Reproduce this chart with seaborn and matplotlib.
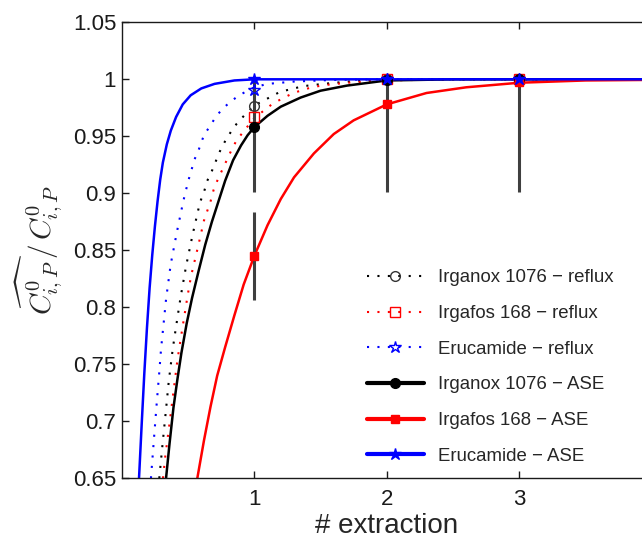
import matplotlib
matplotlib.use('Agg')
import matplotlib.pyplot as plt
from matplotlib.lines import Line2D
from matplotlib.ticker import FormatStrFormatter
import seaborn as sns

# model curves (x = # extraction, y = normalised concentration)
irganox_ase_x = [0.334, 0.36, 0.39, 0.42, 0.45, 0.49, 0.53, 0.58, 0.63, 0.68, 0.73, 0.78, 0.84, 0.9,
                 0.95, 1.0, 1.1, 1.2, 1.35, 1.5, 1.7, 2.0, 2.5, 3.0, 4.0]
irganox_ase_y = [0.65, 0.68, 0.712, 0.737, 0.76, 0.786, 0.808, 0.832, 0.855, 0.875, 0.893, 0.911, 0.929, 0.942,
                 0.951, 0.958, 0.968, 0.976, 0.984, 0.990, 0.9945, 0.999, 1.0, 1.0, 1.0]

irgafos_ase_x = [0.57, 0.62, 0.67, 0.72, 0.78, 0.85, 0.92, 1.0, 1.1, 1.2, 1.3, 1.45, 1.6, 1.75, 2.0,
                 2.3, 2.6, 3.0, 3.5, 4.0]
irgafos_ase_y = [0.65, 0.683, 0.713, 0.740, 0.765, 0.793, 0.820, 0.845, 0.872, 0.895, 0.914, 0.935, 0.952,
                 0.964, 0.978, 0.988, 0.993, 0.997, 0.999, 0.9995]

erucamide_ase_x = [0.13, 0.15, 0.17, 0.19, 0.21, 0.23, 0.25, 0.27, 0.29, 0.31, 0.34, 0.37, 0.41, 0.46,
                   0.52, 0.6, 0.7, 0.85, 1.0, 2.0, 3.0, 4.0]
erucamide_ase_y = [0.65, 0.697, 0.742, 0.782, 0.817, 0.846, 0.871, 0.893, 0.912, 0.927, 0.943, 0.955, 0.967,
                   0.978, 0.986, 0.992, 0.996, 0.999, 1.0, 1.0, 1.0, 1.0]

irganox_ref_x = [0.283, 0.306, 0.331, 0.354, 0.384, 0.407, 0.444, 0.485, 0.535, 0.59, 0.62, 0.645, 0.678,
                 0.709, 0.741, 0.781, 0.824, 0.867, 0.922, 1.0, 1.194, 1.37, 1.52, 1.8, 2.2, 4.0]
irganox_ref_y = [0.65, 0.678, 0.707, 0.7345, 0.763, 0.781, 0.809, 0.836, 0.864, 0.892, 0.901, 0.911, 0.919,
                 0.928, 0.937, 0.946, 0.954, 0.961, 0.968, 0.977, 0.989, 0.994, 0.996, 0.999, 1.0, 1.0]

irgafos_ref_x = [0.311, 0.328, 0.359, 0.389, 0.419, 0.444, 0.469, 0.495, 0.522, 0.578, 0.62, 0.671, 0.693,
                 0.724, 0.756, 0.824, 0.864, 0.917, 1.0, 1.143, 1.294, 1.433, 1.534, 1.7, 2.0, 2.5, 4.0]
irgafos_ref_y = [0.65, 0.669, 0.697, 0.725, 0.753, 0.772, 0.79, 0.809, 0.827, 0.8545, 0.876, 0.8934, 0.903,
                 0.912, 0.92, 0.937, 0.946, 0.954, 0.966, 0.979, 0.988, 0.993, 0.995, 0.997, 0.999, 1.0, 1.0]

erucamide_ref_x = [0.22, 0.245, 0.263, 0.283, 0.296, 0.334, 0.369, 0.414, 0.464, 0.502, 0.55, 0.58, 0.62,
                   0.666, 0.709, 0.759, 0.817, 0.885, 1.0, 1.1, 1.3, 1.6, 2.0, 4.0]
erucamide_ref_y = [0.65, 0.688, 0.715, 0.743, 0.763, 0.807, 0.8375, 0.865, 0.893, 0.911, 0.930, 0.938, 0.951,
                   0.959, 0.967, 0.974, 0.980, 0.986, 0.993, 0.996, 0.998, 0.9995, 1.0, 1.0]

# measured points
extraction = [1, 2, 3]
irganox_ase_pts = [0.958, 0.9995, 1.0]
irgafos_ase_pts = [0.845, 0.978, 0.998]
erucamide_ase_pts = [1.0, 1.0, 1.0]
irganox_ref_pts = [0.977, 1.0, 1.0]
irgafos_ref_pts = [0.967, 1.0, 1.0]
erucamide_ref_pts = [0.991, 1.0, 1.0]

# error bars
err_x = [1, 1, 2, 3]
err_low = [0.901, 0.806, 0.901, 0.901]
err_high = [1.0, 0.884, 1.0, 1.0]

yticks = [0.65, 0.7, 0.75, 0.8, 0.85, 0.9, 0.95, 1.0, 1.05]
xticks = [1, 2, 3]

BLACK, RED, BLUE = '#000000', '#ff0000', '#0000ff'

sns.set_theme(style='ticks')
plt.rcParams['font.family'] = ['Liberation Sans', 'DejaVu Sans']
plt.rcParams['mathtext.fontset'] = 'cm'

fig = plt.figure(figsize=(6.42, 5.39), dpi=100)
ax = fig.add_axes([0.1897, 0.1126, 0.8255, 0.846])

dot = (0, (1, 4))
lw = 1.8

for xs, ys, c in [(irganox_ref_x, irganox_ref_y, BLACK),
                  (irgafos_ref_x, irgafos_ref_y, RED),
                  (erucamide_ref_x, erucamide_ref_y, BLUE)]:
    sns.lineplot(x=xs, y=ys, ax=ax, color=c, lw=1.5, linestyle=dot,
                 estimator=None, sort=False, legend=False, zorder=2)

for xs, ys, c in [(irganox_ase_x, irganox_ase_y, BLACK),
                  (irgafos_ase_x, irgafos_ase_y, RED),
                  (erucamide_ase_x, erucamide_ase_y, BLUE)]:
    sns.lineplot(x=xs, y=ys, ax=ax, color=c, lw=lw,
                 estimator=None, sort=False, legend=False, zorder=2)

ax.vlines(err_x, err_low, err_high, color='#3f3f3f', lw=2.2, zorder=3)

# reflux markers (open)
ax.plot(extraction, irganox_ref_pts, 'o', ms=7, mfc='none', mec='#333333', mew=1, zorder=4)
ax.plot(extraction, irgafos_ref_pts, 's', ms=6.5, mfc='none', mec=RED, mew=1, zorder=4)
ax.plot(extraction, erucamide_ref_pts, '*', ms=9, mfc='none', mec=BLUE, mew=1, zorder=4)
# ASE markers (filled)
ax.plot(extraction, irganox_ase_pts, 'o', ms=7, color=BLACK, zorder=5)
ax.plot(extraction, irgafos_ase_pts, 's', ms=6, color=RED, zorder=5)
ax.plot(extraction, erucamide_ase_pts, '*', ms=9, color=BLUE, zorder=5)

ax.set_xlim(0, 4)
ax.set_ylim(0.65, 1.05)
ax.set_xticks(xticks)
ax.set_yticks(yticks)
ax.yaxis.set_major_formatter(FormatStrFormatter('%g'))
ax.tick_params(direction='in', length=5, width=1, labelsize=16, top=True, right=True, colors='k')
ax.tick_params(axis='x', pad=8)
ax.tick_params(axis='y', pad=4)
for s in ax.spines.values():
    s.set_color('k')
    s.set_linewidth(1)

ax.set_xlabel('# extraction', fontsize=20, labelpad=2)
ax.set_ylabel(r'$\widehat{C_{i,P}^{0}}\,/\,C_{i,P}^{0}$', fontsize=21, labelpad=6)

handles = [
    Line2D([], [], color=BLACK, lw=1.5, ls=dot, marker='o', ms=7, mfc='none', mec='#333333'),
    Line2D([], [], color=RED, lw=1.5, ls=dot, marker='s', ms=6.5, mfc='none', mec=RED),
    Line2D([], [], color=BLUE, lw=1.5, ls=dot, marker='*', ms=9, mfc='none', mec=BLUE),
    Line2D([], [], color=BLACK, lw=3, marker='o', ms=7),
    Line2D([], [], color=RED, lw=3, marker='s', ms=6),
    Line2D([], [], color=BLUE, lw=3, marker='*', ms=9),
]
labels = ['Irganox 1076 \u2212 reflux', 'Irgafos 168 \u2212 reflux', 'Erucamide \u2212 reflux',
          'Irganox 1076 \u2212 ASE', 'Irgafos 168 \u2212 ASE', 'Erucamide \u2212 ASE']
ax.legend(handles, labels, loc='upper left', bbox_to_anchor=(0.462, 0.458), frameon=False,
          fontsize=13.4, handlelength=3.1, handletextpad=0.75, labelspacing=1.0,
          borderpad=0, borderaxespad=0)

fig.savefig('out.png', dpi=100)
